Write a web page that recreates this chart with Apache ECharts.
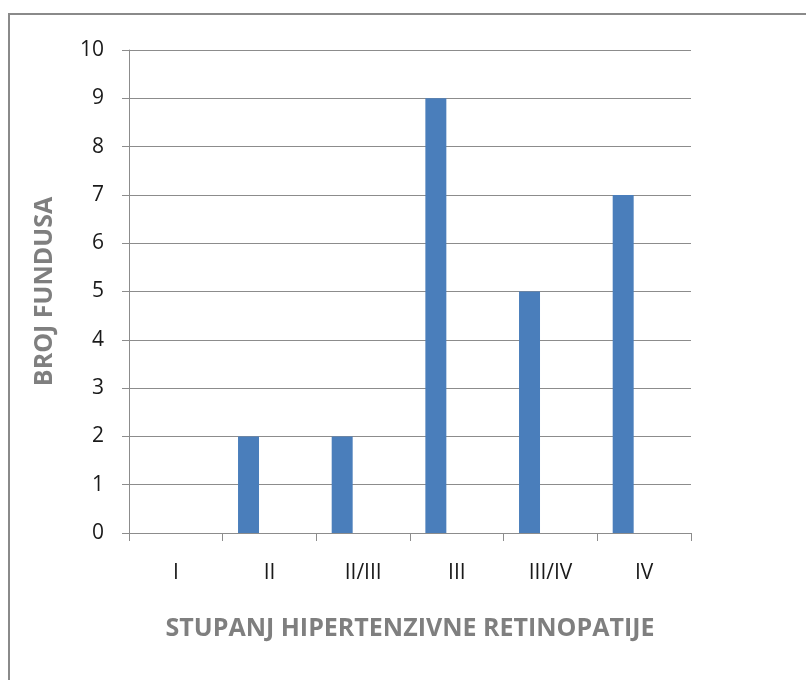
<!DOCTYPE html>
<html>
<head>
<meta charset="utf-8">
<script src="https://cdn.jsdelivr.net/npm/echarts@6/dist/echarts.min.js"></script>
<style>
    html, body { margin: 0; padding: 0; background: #fff; }
    #chart { width: 806px; height: 680px; }
</style>
</head>
<body>
<div id="chart"></div>
<script>
// podaci
var categories = ["I", "II", "II/III", "III", "III/IV", "IV"];
var brojFundusa = [0, 2, 2, 9, 5, 7];
// prazne serije - u originalu zauzimaju mjesto pored stupca
var prazno2 = ["-", "-", "-", "-", "-", "-"];
var prazno3 = ["-", "-", "-", "-", "-", "-"];

var fontFamily = "'Open Sans', 'Noto Sans', sans-serif";
var myChart = echarts.init(document.getElementById("chart"));

var option = {
    animation: false,
    backgroundColor: "#fff",
    graphic: [{
        type: "rect",
        shape: { x: 9, y: 14, width: 900, height: 800 },
        style: { fill: "none", stroke: "#8a8a8a", lineWidth: 2 }
    }],
    grid: {
        left: 129,
        right: 115,
        top: 50,
        bottom: 147
    },
    xAxis: {
        type: "category",
        data: categories,
        boundaryGap: true,
        name: "STUPANJ HIPERTENZIVNE RETINOPATIJE",
        nameLocation: "middle",
        nameGap: 83,
        nameTextStyle: {
            color: "#7f7f7f",
            fontSize: 25,
            fontWeight: "bold",
            fontFamily: fontFamily
        },
        axisLine: { lineStyle: { color: "#8c8c8c", width: 1 } },
        axisTick: { show: true, length: 8, interval: 0, lineStyle: { color: "#8c8c8c" } },
        axisLabel: {
            interval: 0,
            margin: 30,
            color: "#1a1a1a",
            fontSize: 21,
            fontFamily: fontFamily
        },
        splitLine: { show: false }
    },
    yAxis: {
        type: "value",
        min: 0,
        max: 10,
        interval: 1,
        name: "BROJ FUNDUSA",
        nameLocation: "middle",
        nameGap: 72,
        nameTextStyle: {
            color: "#7f7f7f",
            fontSize: 25,
            fontWeight: "bold",
            fontFamily: fontFamily
        },
        axisLine: { show: true, lineStyle: { color: "#8c8c8c", width: 1 } },
        axisTick: { show: true, length: 7, lineStyle: { color: "#8c8c8c" } },
        axisLabel: {
            margin: 25,
            color: "#1a1a1a",
            fontSize: 21,
            fontFamily: fontFamily
        },
        splitLine: { lineStyle: { color: "#8c8c8c", width: 1 } }
    },
    series: [
        {
            name: "Broj fundusa",
            type: "bar",
            barGap: "0%",
            barCategoryGap: "32.8%",
            itemStyle: { color: "#4a7ebb" },
            data: brojFundusa
        },
        {
            name: "s2",
            type: "bar",
            data: prazno2
        },
        {
            name: "s3",
            type: "bar",
            data: prazno3
        }
    ]
};
myChart.setOption(option);
</script>
</body>
</html>
